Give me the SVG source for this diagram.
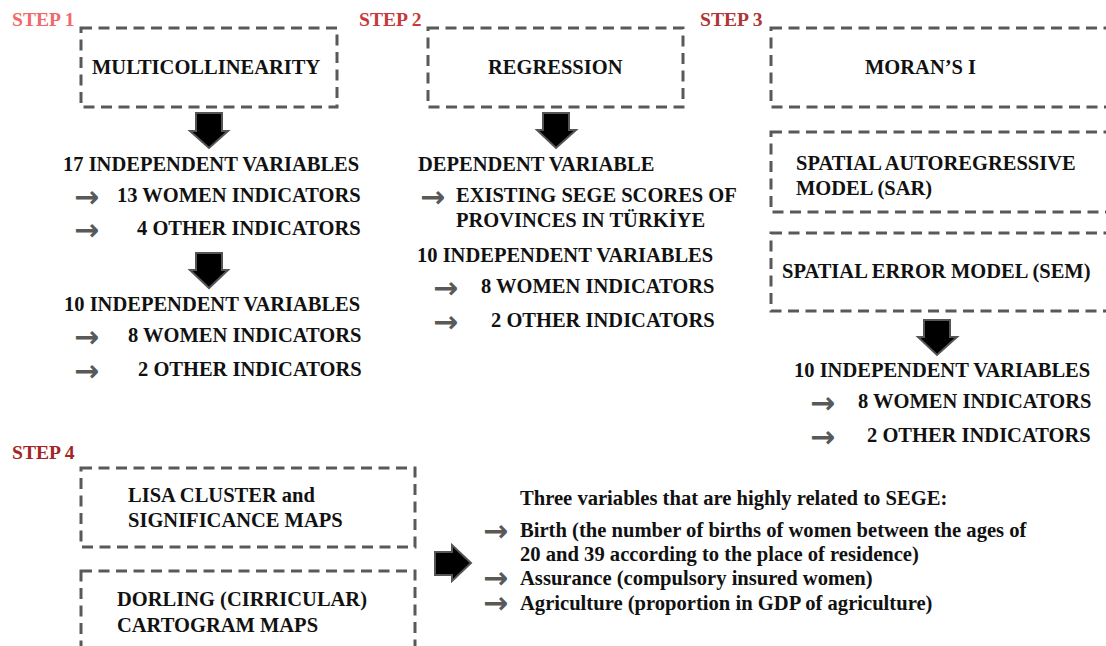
<svg xmlns="http://www.w3.org/2000/svg" width="1106" height="646" viewBox="0 0 1106 646">
<defs>
<style>
.t{font-family:'Liberation Serif',serif;font-weight:700;font-size:20.5px;fill:#111;}
.r{font-size:20.6px;}
.st{font-family:'Liberation Serif',serif;font-weight:700;font-size:19.6px;}
.box{fill:none;stroke:#595959;stroke-width:3;stroke-dasharray:11 6.5;}
.ar{font-family:'DejaVu Sans',sans-serif;font-weight:700;font-size:30px;fill:#595959;}
.blk{fill:#000;stroke:#555;stroke-width:2;stroke-linejoin:miter;}
</style>
</defs>
<rect width="1106" height="646" fill="#fff"/>

<g id="labels">
<text class="st" x="12" y="26" fill="#f06a6a">STEP 1</text>
<text class="st" x="359" y="26" fill="#c53a3a">STEP 2</text>
<text class="st" x="700" y="26" fill="#b03535">STEP 3</text>
<text class="st" x="12" y="459" fill="#a32525">STEP 4</text>
</g>

<g id="multicollinearity">
<rect class="box" x="81" y="28" width="256" height="79"/>
<text class="t" x="92" y="74">MULTICOLLINEARITY</text>
</g>
<g id="regression">
<rect class="box" x="428" y="28" width="255" height="79"/>
<text class="t" x="488" y="74">REGRESSION</text>
</g>
<g id="moran">
<rect class="box" x="771" y="28" width="360" height="79"/>
<text class="t" x="865" y="74">MORAN’S I</text>
</g>
<g id="sar">
<rect class="box" x="771" y="132" width="360" height="80"/>
<text class="t" x="796" y="170">SPATIAL AUTOREGRESSIVE</text>
<text class="t" x="796" y="195">MODEL (SAR)</text>
</g>
<g id="sem">
<rect class="box" x="771" y="233" width="360" height="78"/>
<text class="t" x="782" y="278">SPATIAL ERROR MODEL (SEM)</text>
</g>
<g id="lisa">
<rect class="box" x="81" y="468" width="334" height="79"/>
<text class="t" x="128" y="502">LISA CLUSTER and</text>
<text class="t" x="128" y="527">SIGNIFICANCE MAPS</text>
</g>
<g id="dorling">
<rect class="box" x="81" y="571" width="334" height="100"/>
<text class="t" x="117" y="606">DORLING (CIRRICULAR)</text>
<text class="t" x="117" y="632">CARTOGRAM MAPS</text>
</g>

<g id="arrows-bullets">
<text class="ar" x="74" y="207">→</text>
<text class="ar" x="74" y="240">→</text>
<text class="ar" x="74" y="347">→</text>
<text class="ar" x="74" y="381">→</text>
<text class="ar" x="420" y="207">→</text>
<text class="ar" x="433" y="298">→</text>
<text class="ar" x="433" y="332">→</text>
<text class="ar" x="810" y="413">→</text>
<text class="ar" x="810" y="447">→</text>
<text class="ar" x="483" y="541">→</text>
<text class="ar" x="483" y="588">→</text>
<text class="ar" x="483" y="613">→</text>
</g>

<g id="step1-vars17">
<text class="t" x="63" y="171">17 INDEPENDENT VARIABLES</text>
<text class="t" x="117" y="202">13 WOMEN INDICATORS</text>
<text class="t" x="137" y="235">4 OTHER INDICATORS</text>
</g>
<g id="step1-vars10">
<text class="t" x="64" y="311">10 INDEPENDENT VARIABLES</text>
<text class="t" x="128" y="342">8 WOMEN INDICATORS</text>
<text class="t" x="138" y="376">2 OTHER INDICATORS</text>
</g>
<g id="step2-dependent">
<text class="t" x="418" y="171">DEPENDENT VARIABLE</text>
<text class="t" x="456" y="202">EXISTING SEGE SCORES OF</text>
<text class="t" x="456" y="227">PROVINCES IN TÜRKİYE</text>
</g>
<g id="step2-vars10">
<text class="t" x="417" y="262">10 INDEPENDENT VARIABLES</text>
<text class="t" x="481" y="293">8 WOMEN INDICATORS</text>
<text class="t" x="491" y="327">2 OTHER INDICATORS</text>
</g>
<g id="step3-vars10">
<text class="t" x="794" y="377">10 INDEPENDENT VARIABLES</text>
<text class="t" x="858" y="408">8 WOMEN INDICATORS</text>
<text class="t" x="867" y="442">2 OTHER INDICATORS</text>
</g>
<g id="results">
<text class="t r" x="520" y="505">Three variables that are highly related to SEGE:</text>
<text class="t r" x="520" y="537">Birth (the number of births of women between the ages of</text>
<text class="t r" x="520" y="561">20 and 39 according to the place of residence)</text>
<text class="t r" x="520" y="585">Assurance (compulsory insured women)</text>
<text class="t r" x="520" y="610">Agriculture (proportion in GDP of agriculture)</text>
</g>

<g id="connectors">
<polygon class="blk" points="196,113 222,113 222,131 228,131 209,148 190,131 196,131"/>
<polygon class="blk" points="196,253 222,253 222,270 228,270 209,288 190,270 196,270"/>
<polygon class="blk" points="543,113 569,113 569,130 576,130 556,148 537,130 543,130"/>
<polygon class="blk" points="924,320 950,320 950,337 957,337 937,355 918,337 924,337"/>
<polygon class="blk" points="435,552 452,552 452,545 471,563 452,581 452,575 435,575"/>
</g>
</svg>
